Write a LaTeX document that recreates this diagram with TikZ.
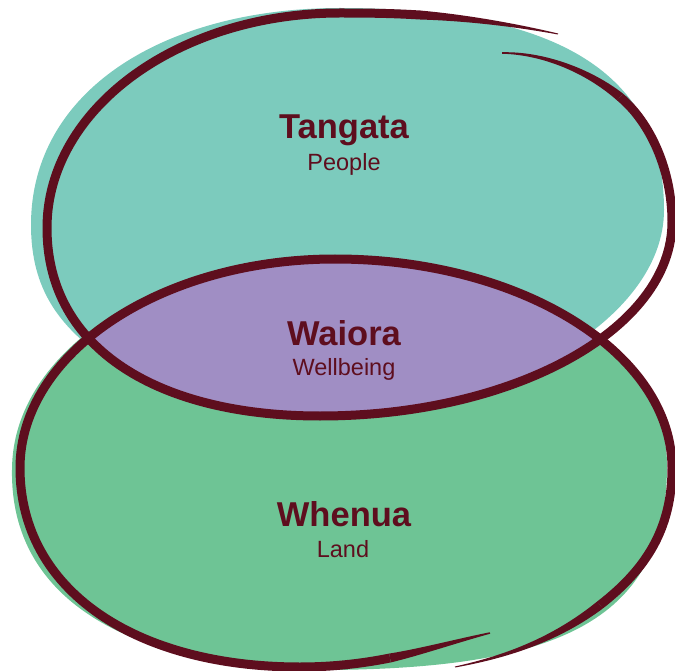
\documentclass[tikz,border=0pt]{standalone}
\usepackage{fontspec}
\setmainfont{Liberation Sans}
\definecolor{tealfill}{HTML}{7CCBBD}
\definecolor{greenfill}{HTML}{6EC495}
\definecolor{lensfill}{HTML}{A08EC4}
\definecolor{ink}{HTML}{5E0E1E}
\tikzset{
  title/.style={font=\bfseries\fontsize{34.5}{36}\selectfont, text=ink, inner sep=0pt, anchor=base},
  subtitle/.style={font=\fontsize{23.5}{26}\selectfont, text=ink, inner sep=0pt, anchor=base},
  outline/.style={draw=ink, line width=9pt, line join=round},
}
\begin{document}
\begin{tikzpicture}[x=1pt,y=-1pt]
\useasboundingbox (0,0) rectangle (675,671);
% teal (Tangata) fill
\fill[tealfill] (31,225) .. controls (31,90) and (165,8) .. (340,8)
  .. controls (560,8) and (664,75) .. (664,210)
  .. controls (664,320) and (500,414) .. (320,414)
  .. controls (200,414) and (130,380) .. (100,355)
  .. controls (60,325) and (31,290) .. (31,225) -- cycle;
% green (Whenua) fill
\fill[greenfill] (330,670) .. controls (130,670) and (10,600) .. (12,470)
  .. controls (12,350) and (160,256) .. (335,256)
  .. controls (520,256) and (667,350) .. (667,465)
  .. controls (667,620) and (560,668) .. (330,670) -- cycle;
% lens (Waiora) fill
\begin{scope}
  \clip (47,228) .. controls (47,109) and (178,13) .. (340,13)
    .. controls (523,13) and (672,107) .. (672,222)
    .. controls (672,329) and (514,416) .. (320,416)
    .. controls (160,416) and (47,350) .. (47,228) -- cycle;
  \fill[lensfill] (300,667) .. controls (135,667) and (20,590) .. (20,468)
    .. controls (20,353) and (161,259) .. (335,259)
    .. controls (521,259) and (672,353) .. (672,468)
    .. controls (672,580) and (580,667) .. (300,667) -- cycle;
\end{scope}
% top outline
\fill[ink] (502,52.25) .. controls (545,51.2) and (592.05,69.54) .. (622.88,93.54)
  -- (617.12,100.46) .. controls (587.95,74.46) and (545,54.8) .. (502,53.75) -- cycle;
\draw[outline] (620,97) .. controls (650,122) and (672,170) .. (672,222)
  .. controls (672,329) and (514,416) .. (320,416)
  .. controls (160,416) and (47,350) .. (47,228)
  .. controls (47,109) and (178,13) .. (340,13)
  .. controls (375,13) and (395,13.5) .. (420,15);
\fill[ink] (420,10.5) .. controls (470,15) and (520.3,24.53) .. (558.1,33.51)
  -- (557.9,34.49) .. controls (519.7,27.47) and (470,21) .. (420,19.5) -- cycle;
% bottom outline
\fill[ink] (490.18,633.73) .. controls (460.44,641.75) and (420.66,655.23) .. (390.88,662.41)
  -- (389.12,653.59) .. controls (419.34,648.77) and (459.56,638.25) .. (489.82,632.27) -- cycle;
\draw[outline] (390,658) .. controls (360,664) and (330,667) .. (300,667)
  .. controls (135,667) and (20,590) .. (20,468)
  .. controls (20,353) and (161,259) .. (335,259)
  .. controls (521,259) and (672,353) .. (672,468)
  .. controls (672,530) and (645,570) .. (600,605);
\fill[ink] (602.76,608.55) .. controls (557.03,642.60) and (505.29,658.47) .. (455.1,667.49)
  -- (454.9,666.51) .. controls (504.71,655.53) and (552.97,637.40) .. (597.24,601.45) -- cycle;
% labels
\node[title] (tangata) at (344,139) {Tangata};
\node[subtitle] (people) at (344,171) {People};
\node[title] (waiora) at (344,345) {Waiora};
\node[subtitle] (wellbeing) at (344,375) {Wellbeing};
\node[title] (whenua) at (344,526) {Whenua};
\node[subtitle] (land) at (343,557) {Land};
\end{tikzpicture}
\end{document}
